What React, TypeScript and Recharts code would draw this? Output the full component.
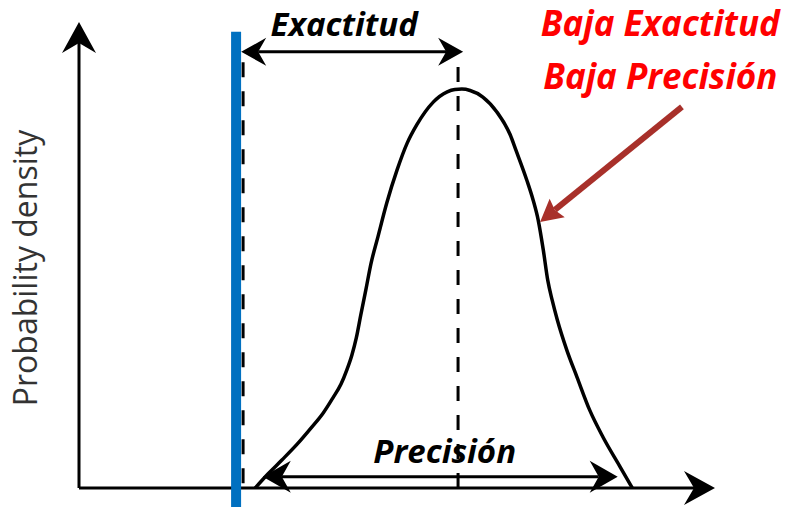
import React from 'react';
import { ComposedChart, Line, XAxis, YAxis, ReferenceLine, ReferenceDot } from 'recharts';

// Bell curve (probability density)
const curveX = [27.7, 29.7, 31.9, 34.3, 36.5, 38.4, 39.9, 41.2, 42.1, 42.9, 43.6, 44.3, 45.1, 45.9, 47.0, 48.4, 50.0, 51.6, 53.1, 55.7, 57.9, 59.1, 60.2, 61.5, 63.5, 65.7, 67.8, 68.7, 70.4, 71.4, 72.2, 73.0, 73.7, 74.4, 75.2, 76.7, 78.3, 80.3, 82.4, 85.1, 87.0];
const curveY = [0, 3.0, 6.0, 9.4, 12.9, 16.1, 19.3, 22.3, 25.3, 28.5, 32.2, 37.1, 42.5, 48.1, 53.9, 61.2, 68.2, 74.0, 77.9, 82.8, 85.0, 85.5, 85.6, 85.3, 83.9, 80.7, 75.8, 72.5, 66.1, 61.8, 57.5, 51.1, 44.6, 40.3, 36.1, 29.6, 23.8, 16.7, 10.9, 4.5, 0];

// Reference values
const trueValue = 24.7;       // blue line
const trueValueDash = 25.8;   // dashed line left
const meanValue = 59.6;       // dashed line centre
const accuracyY = 93.6;
const accuracyRange = [25.5, 60.4];
const precisionY = 2.4;
const precisionRange = [28.9, 84.7];
const pointerFrom = [94.8, 81.8];
const pointerTo = [72.5, 57.1];

// Text labels
const labelAccuracy = 'Exactitud';
const labelPrecision = 'Precisión';
const titleLines = ['Baja Exactitud', 'Baja Precisión'];
const yLabel = 'Probability density';

const data = curveX.map((x, i) => ({ x, y: curveY[i] }));

function headPoints(x1: number, y1: number, x2: number, y2: number, L: number, W: number, N: number) {
  const dx = x2 - x1, dy = y2 - y1;
  const len = Math.hypot(dx, dy) || 1;
  const ux = dx / len, uy = dy / len;
  const px = -uy, py = ux;
  const bx = x2 - ux * L, by = y2 - uy * L;
  const nx = x2 - ux * (L - N), ny = y2 - uy * (L - N);
  return {
    pts: `${x2},${y2} ${bx + px * W},${by + py * W} ${nx},${ny} ${bx - px * W},${by - py * W}`,
    nx, ny,
  };
}

function makeArrow(opts: { color: string; width: number; both?: boolean; L: number; W: number; N: number; dash?: string }) {
  return (props: any) => {
    const { x1, y1, x2, y2 } = props;
    const end = headPoints(x1, y1, x2, y2, opts.L, opts.W, opts.N);
    let sx = x1, sy = y1;
    let startHead: any = null;
    if (opts.both) {
      startHead = headPoints(x2, y2, x1, y1, opts.L, opts.W, opts.N);
      sx = startHead.nx; sy = startHead.ny;
    }
    return (
      <g>
        <line x1={sx} y1={sy} x2={end.nx} y2={end.ny} stroke={opts.color} strokeWidth={opts.width} strokeDasharray={opts.dash} />
        <polygon points={end.pts} fill={opts.color} />
        {startHead && <polygon points={startHead.pts} fill={opts.color} />}
      </g>
    );
  };
}

function makeText(text: string, o: { size: number; color: string; weight?: string; italic?: boolean; rotate?: number; anchor?: string }) {
  return (props: any) => {
    const { cx, cy } = props;
    return (
      <text
        x={cx}
        y={cy}
        textAnchor={(o.anchor as any) || 'middle'}
        fontFamily="'Open Sans', sans-serif"
        fontSize={o.size}
        fontWeight={o.weight || 'bold'}
        fontStyle={o.italic ? 'italic' : 'normal'}
        fill={o.color}
        transform={o.rotate ? `rotate(${o.rotate}, ${cx}, ${cy})` : undefined}
      >
        {text}
      </text>
    );
  };
}

const axisArrow = makeArrow({ color: '#000', width: 3, L: 31, W: 17, N: 10 });
const dimArrow = makeArrow({ color: '#000', width: 3, both: true, L: 25, W: 14, N: 8 });
const precArrow = makeArrow({ color: '#000', width: 3, both: true, L: 28, W: 16, N: 9 });
const pointerArrow = makeArrow({ color: '#a8302a', width: 6, L: 22, W: 12, N: 3 });

export default function App() {
  return (
    <div style={{ position: 'absolute', left: 0, top: 0, background: '#fff' }}>
      <ComposedChart width={798} height={507} data={data} margin={{ top: 22, right: 83, bottom: 19, left: 79 }}>
        <XAxis type="number" dataKey="x" domain={[0, 100]} hide allowDataOverflow />
        <YAxis type="number" domain={[0, 100]} hide allowDataOverflow />
        {/* axes with arrows */}
        <ReferenceLine segment={[{ x: 0, y: 0 }, { x: 100, y: 0 }]} ifOverflow="visible" shape={axisArrow} />
        <ReferenceLine segment={[{ x: 0, y: 0 }, { x: 0, y: 100 }]} ifOverflow="visible" shape={axisArrow} />
        {/* dashed lines */}
        <ReferenceLine segment={[{ x: trueValueDash, y: 1 }, { x: trueValueDash, y: 92.3 }]} ifOverflow="visible" stroke="#000" strokeWidth={3} strokeDasharray="15 14" />
        <ReferenceLine segment={[{ x: meanValue, y: 0 }, { x: meanValue, y: 91.4 }]} ifOverflow="visible" stroke="#000" strokeWidth={3} strokeDasharray="15 14" />
        {/* curve */}
        <Line type="monotone" dataKey="y" stroke="#000" strokeWidth={3.5} dot={false} isAnimationActive={false} />
        {/* blue true-value line */}
        <ReferenceLine segment={[{ x: trueValue, y: -4.1 }, { x: trueValue, y: 97.9 }]} ifOverflow="visible" stroke="#0070c0" strokeWidth={10} />
        {/* dimension arrows */}
        <ReferenceLine segment={[{ x: accuracyRange[0], y: accuracyY }, { x: accuracyRange[1], y: accuracyY }]} ifOverflow="visible" shape={dimArrow} />
        <ReferenceLine segment={[{ x: precisionRange[0], y: precisionY }, { x: precisionRange[1], y: precisionY }]} ifOverflow="visible" shape={precArrow} />
        <ReferenceLine segment={[{ x: pointerFrom[0], y: pointerFrom[1] }, { x: pointerTo[0], y: pointerTo[1] }]} ifOverflow="visible" shape={pointerArrow} />
        {/* texts */}
        <ReferenceDot x={41.7} y={97.0} ifOverflow="visible" shape={makeText(labelAccuracy, { size: 33, color: '#000', italic: true })} />
        <ReferenceDot x={57.5} y={5.4} ifOverflow="visible" shape={makeText(labelPrecision, { size: 33, color: '#000', italic: true })} />
        <ReferenceDot x={91.4} y={96.9} ifOverflow="visible" shape={makeText(titleLines[0], { size: 35, color: '#ff0000', italic: true })} />
        <ReferenceDot x={91.4} y={85.6} ifOverflow="visible" shape={makeText(titleLines[1], { size: 35, color: '#ff0000', italic: true })} />
        <ReferenceDot x={-6.6} y={47.2} ifOverflow="visible" shape={makeText(yLabel, { size: 32, color: '#333', weight: 'normal', rotate: -90 })} />
      </ComposedChart>
    </div>
  );
}
